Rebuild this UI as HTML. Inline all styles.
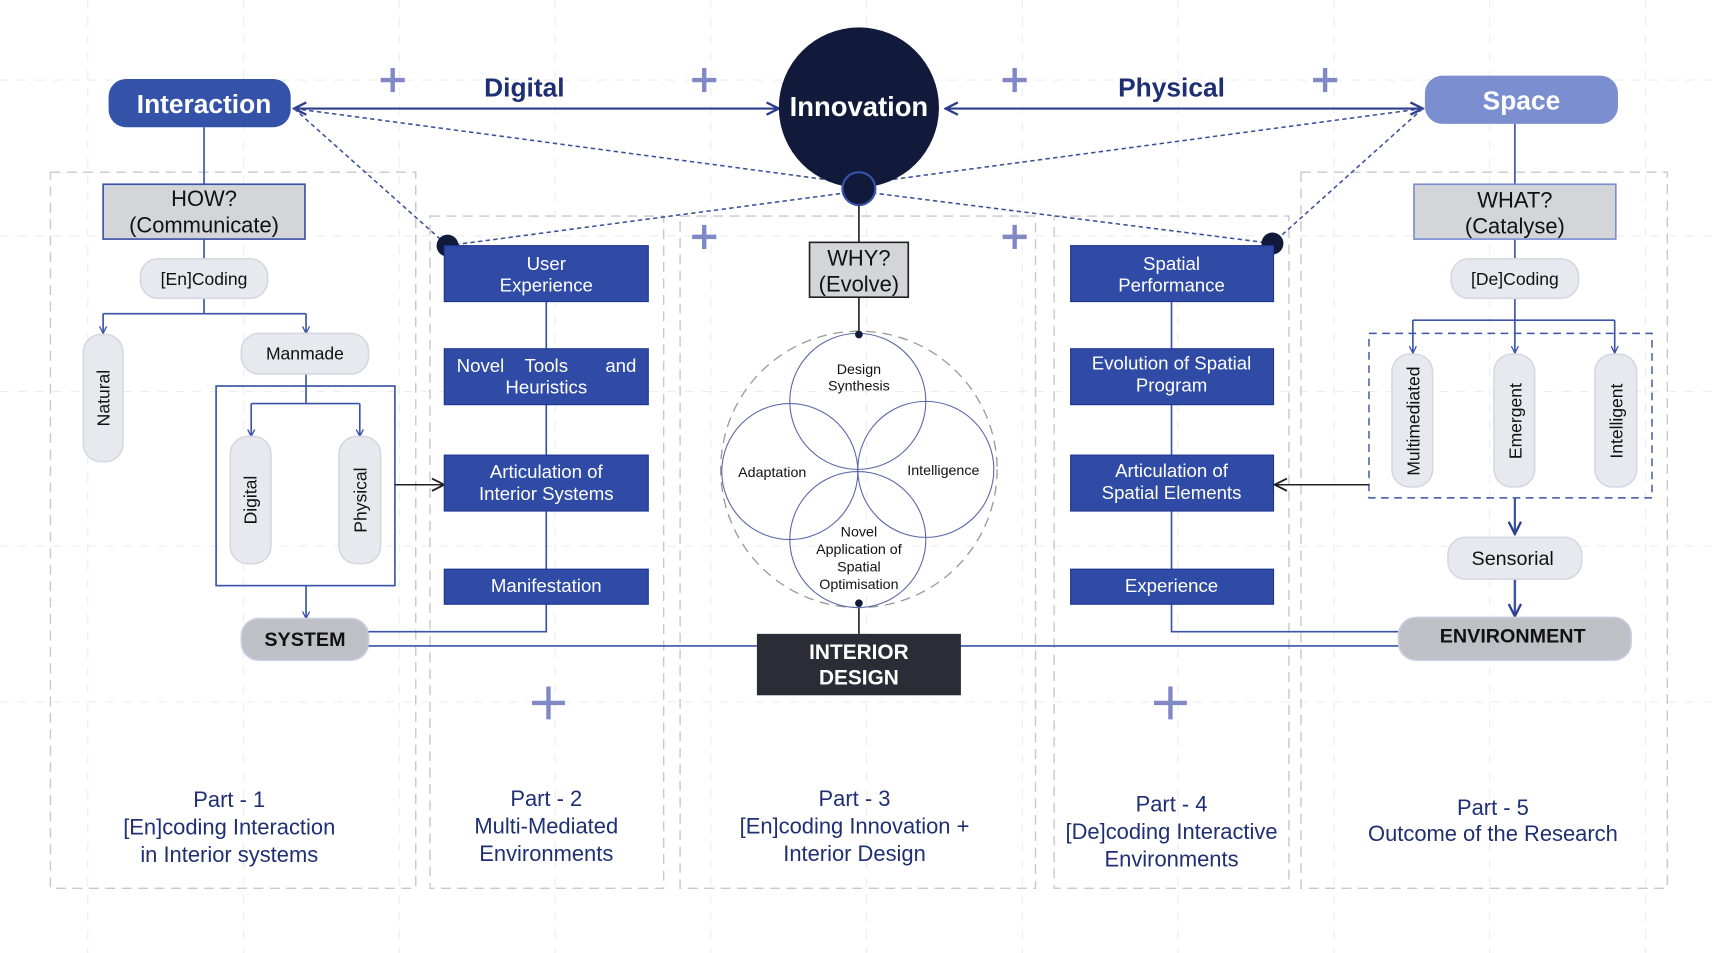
<!DOCTYPE html>
<html><head><meta charset="utf-8"><style>
html,body{margin:0;padding:0;background:#fff;}
svg{display:block;}
text{font-family:"Liberation Sans","DejaVu Sans",sans-serif;}
</style></head><body>
<svg width="1720" height="953" viewBox="0 0 1568 869" preserveAspectRatio="none" xmlns="http://www.w3.org/2000/svg">
<defs>
<marker id="oa" viewBox="0 0 10 10" refX="9" refY="5" markerWidth="14" markerHeight="14" markerUnits="userSpaceOnUse" orient="auto-start-reverse"><path d="M1,1 L9,5 L1,9" fill="none" stroke="#2c3e8c" stroke-width="1.5"/></marker>
<marker id="sa" viewBox="0 0 10 10" refX="9" refY="5" markerWidth="8" markerHeight="8" markerUnits="userSpaceOnUse" orient="auto"><path d="M1,1 L9,5 L1,9" fill="none" stroke="#3a52a8" stroke-width="1.5"/></marker>
<marker id="ka" viewBox="0 0 10 10" refX="9" refY="5" markerWidth="14" markerHeight="14" markerUnits="userSpaceOnUse" orient="auto"><path d="M1,1 L9,5 L1,9" fill="none" stroke="#222" stroke-width="1.2"/></marker>
</defs>
<rect width="1568" height="869" fill="#fff"/>
<!-- faint grid -->
<g stroke="#ececf2" stroke-width="1" stroke-dasharray="8 8">
<line x1="0" y1="73" x2="1568" y2="73"/><line x1="0" y1="215" x2="1568" y2="215"/><line x1="0" y1="357" x2="1568" y2="357"/><line x1="0" y1="498" x2="1568" y2="498"/><line x1="0" y1="640" x2="1568" y2="640"/>
<line x1="80" y1="0" x2="80" y2="869"/><line x1="222" y1="0" x2="222" y2="869"/><line x1="364" y1="0" x2="364" y2="869"/><line x1="506" y1="0" x2="506" y2="869"/><line x1="648" y1="0" x2="648" y2="869"/><line x1="790" y1="0" x2="790" y2="869"/><line x1="932" y1="0" x2="932" y2="869"/><line x1="1074" y1="0" x2="1074" y2="869"/><line x1="1216" y1="0" x2="1216" y2="869"/><line x1="1358" y1="0" x2="1358" y2="869"/><line x1="1500" y1="0" x2="1500" y2="869"/>
</g>
<!-- column boxes -->
<g fill="none" stroke="#c8c8ce" stroke-width="1.3" stroke-dasharray="9 6">
<rect x="46" y="157" width="333" height="653"/>
<rect x="392" y="197" width="213" height="613"/>
<rect x="620" y="197" width="324" height="613"/>
<rect x="961" y="197" width="214" height="613"/>
<rect x="1186" y="157" width="334" height="653"/>
</g>
<!-- plus signs -->
<g stroke="#8088c6" stroke-width="4">
<path d="M347 73h22M358 62v22"/><path d="M631 73h22M642 62v22"/><path d="M914 73h22M925 62v22"/><path d="M1197 73h22M1208 62v22"/>
<path d="M631 216h22M642 205v22"/><path d="M914 216h22M925 205v22"/><path d="M485 641h30M500 626v30"/><path d="M1052 641h30M1067 626v30"/>
</g>
<!-- main arrows -->
<line x1="268" y1="99" x2="710" y2="99" stroke="#2c3e8c" stroke-width="2" marker-start="url(#oa)" marker-end="url(#oa)"/>
<line x1="862" y1="99" x2="1297" y2="99" stroke="#2c3e8c" stroke-width="2" marker-start="url(#oa)" marker-end="url(#oa)"/>
<text x="478" y="88" font-size="24" font-weight="bold" fill="#1f2f73" text-anchor="middle">Digital</text>
<text x="1068" y="88" font-size="24" font-weight="bold" fill="#1f2f73" text-anchor="middle">Physical</text>
<!-- dotted lines -->
<g stroke="#3a4f9a" stroke-width="1.4" stroke-dasharray="4 3" fill="none">
<line x1="268" y1="99" x2="770" y2="166"/><line x1="268" y1="99" x2="408" y2="224"/><line x1="408" y1="224" x2="770" y2="176"/>
<line x1="1297" y1="99" x2="796" y2="166"/><line x1="1297" y1="99" x2="1160" y2="222"/><line x1="1160" y1="222" x2="796" y2="176"/>
</g>
<!-- Innovation -->
<circle cx="783" cy="98" r="73" fill="#111a3a"/>
<text x="783" y="106" font-size="25" font-weight="bold" fill="#fff" text-anchor="middle">Innovation</text>
<circle cx="783" cy="172" r="15" fill="#111a3a" stroke="#3a52a8" stroke-width="2"/>
<circle cx="408" cy="224" r="10" fill="#111a3a"/>
<circle cx="1160" cy="222" r="10" fill="#111a3a"/>
<!-- Interaction & Space -->
<rect x="99" y="72" width="166" height="44" rx="16" fill="#3352a8"/>
<text x="186" y="103" font-size="24" font-weight="bold" fill="#fff" text-anchor="middle">Interaction</text>
<rect x="1299" y="69" width="176" height="44" rx="16" fill="#7b8fd0"/>
<text x="1387" y="100" font-size="24" font-weight="bold" fill="#fff" text-anchor="middle">Space</text>
<!-- Part 1 -->
<g stroke="#3a52a8" stroke-width="1.5" fill="none">
<line x1="186" y1="116" x2="186" y2="168"/><line x1="186" y1="218" x2="186" y2="237"/><line x1="186" y1="272" x2="186" y2="286"/>
<line x1="94" y1="286" x2="279" y2="286"/>
<line x1="94" y1="286" x2="94" y2="304" marker-end="url(#sa)"/><line x1="279" y1="286" x2="279" y2="304" marker-end="url(#sa)"/>
<rect x="197" y="352" width="163" height="182"/>
<line x1="279" y1="341" x2="279" y2="368"/><line x1="229" y1="368" x2="328" y2="368"/>
<line x1="229" y1="368" x2="229" y2="398" marker-end="url(#sa)"/><line x1="328" y1="368" x2="328" y2="398" marker-end="url(#sa)"/>
<line x1="279" y1="534" x2="279" y2="564" marker-end="url(#sa)"/>
</g>
<line x1="360" y1="442" x2="405" y2="442" stroke="#222" stroke-width="1.3" marker-end="url(#ka)"/>
<rect x="94" y="168" width="184" height="50" fill="#d3d5d8" stroke="#3a52a8" stroke-width="1.5"/>
<text x="186" y="188" font-size="20" fill="#111" text-anchor="middle">HOW?</text>
<text x="186" y="212" font-size="20" fill="#111" text-anchor="middle">(Communicate)</text>
<g fill="#e8e9ee" stroke="#d5d8e2" stroke-width="1.5">
<rect x="128" y="236" width="116" height="36" rx="16"/>
<rect x="76" y="305" width="36" height="116" rx="16"/>
<rect x="220" y="304" width="116" height="37" rx="16"/>
<rect x="210" y="398" width="37" height="116" rx="16"/>
<rect x="309" y="398" width="38" height="116" rx="16"/>
</g>
<g font-size="16" fill="#111" text-anchor="middle">
<text x="186" y="260">[En]Coding</text>
<text x="278" y="328">Manmade</text>
<text transform="translate(100,363) rotate(-90)">Natural</text>
<text transform="translate(234,456) rotate(-90)">Digital</text>
<text transform="translate(334,456) rotate(-90)">Physical</text>
</g>
<rect x="220" y="564" width="116" height="38" rx="16" fill="#bfc0c6" stroke="#c8cde0" stroke-width="1.5"/>
<text x="278" y="589" font-size="18" font-weight="bold" fill="#111" text-anchor="middle">SYSTEM</text>
<!-- long horizontal lines -->
<g stroke="#3a52a8" stroke-width="1.5" fill="none">
<line x1="336" y1="589" x2="690" y2="589"/><line x1="876" y1="589" x2="1276" y2="589"/>
<polyline points="498,275 498,576 336,576"/>
<polyline points="1068,275 1068,576 1276,576"/>
<line x1="1381" y1="113" x2="1381" y2="168"/><line x1="1381" y1="218" x2="1381" y2="236"/><line x1="1381" y1="272" x2="1381" y2="292"/>
<line x1="1288" y1="292" x2="1472" y2="292"/>
<line x1="1288" y1="292" x2="1288" y2="322" marker-end="url(#sa)"/><line x1="1381" y1="292" x2="1381" y2="322" marker-end="url(#sa)"/><line x1="1472" y1="292" x2="1472" y2="322" marker-end="url(#sa)"/>
<line x1="1381" y1="454" x2="1381" y2="487" stroke-width="2" marker-end="url(#oa)"/>
<line x1="1381" y1="528" x2="1381" y2="562" stroke-width="2.2" marker-end="url(#oa)"/>
</g>
<!-- Part 2 boxes -->
<g fill="#2f4ba5" stroke="#1e3490" stroke-width="1">
<rect x="405" y="224" width="186" height="51"/><rect x="405" y="318" width="186" height="51"/><rect x="405" y="415" width="186" height="51"/><rect x="405" y="519" width="186" height="32"/>
<rect x="976" y="224" width="185" height="51"/><rect x="976" y="318" width="185" height="51"/><rect x="976" y="415" width="185" height="51"/><rect x="976" y="519" width="185" height="32"/>
</g>
<g font-size="17" fill="#fff" text-anchor="middle">
<text x="498" y="246">User</text><text x="498" y="266">Experience</text>
<text x="438" y="339">Novel</text><text x="498" y="339">Tools</text><text x="566" y="339">and</text><text x="498" y="359">Heuristics</text>
<text x="498" y="436">Articulation of</text><text x="498" y="456">Interior  Systems</text>
<text x="498" y="540">Manifestation</text>
<text x="1068" y="246">Spatial</text><text x="1068" y="266">Performance</text>
<text x="1068" y="337">Evolution of Spatial</text><text x="1068" y="357">Program</text>
<text x="1068" y="435">Articulation of</text><text x="1068" y="455">Spatial Elements</text>
<text x="1068" y="540">Experience</text>
</g>
<!-- center -->
<g stroke="#222" stroke-width="1.5"><line x1="783" y1="187" x2="783" y2="221"/><line x1="783" y1="271" x2="783" y2="305"/><line x1="783" y1="550" x2="783" y2="578"/></g>
<rect x="738" y="221" width="90" height="50" fill="#d3d5d8" stroke="#222" stroke-width="1.5"/>
<text x="783" y="242" font-size="20" fill="#111" text-anchor="middle">WHY?</text>
<text x="783" y="266" font-size="20" fill="#111" text-anchor="middle">(Evolve)</text>
<circle cx="783" cy="428" r="126" fill="none" stroke="#999" stroke-width="1.2" stroke-dasharray="9 6"/>
<g fill="none" stroke="#5a67a8" stroke-width="1">
<circle cx="782" cy="366" r="62"/><circle cx="720" cy="430" r="62"/><circle cx="844" cy="428" r="62"/><circle cx="782" cy="492" r="62"/>
</g>
<circle cx="783" cy="305" r="3.5" fill="#111a3a"/><circle cx="783" cy="550" r="3.5" fill="#111a3a"/>
<g font-size="13" fill="#111" text-anchor="middle">
<text x="783" y="341">Design</text><text x="783" y="356">Synthesis</text>
<text x="704" y="435">Adaptation</text><text x="860" y="433">Intelligence</text>
<text x="783" y="489">Novel</text><text x="783" y="505">Application of</text><text x="783" y="521">Spatial</text><text x="783" y="537">Optimisation</text>
</g>
<rect x="690" y="578" width="186" height="56" fill="#2b2d36"/>
<text x="783" y="601" font-size="19" font-weight="bold" fill="#fff" text-anchor="middle">INTERIOR</text>
<text x="783" y="624" font-size="19" font-weight="bold" fill="#fff" text-anchor="middle">DESIGN</text>
<!-- Part 5 -->
<rect x="1289" y="168" width="184" height="50" fill="#d3d5d8" stroke="#7b8fd0" stroke-width="1.5"/>
<text x="1381" y="189" font-size="20" fill="#111" text-anchor="middle">WHAT?</text>
<text x="1381" y="213" font-size="20" fill="#111" text-anchor="middle">(Catalyse)</text>
<rect x="1248" y="304" width="258" height="150" fill="none" stroke="#3a52a8" stroke-width="1.3" stroke-dasharray="7 5"/>
<line x1="1248" y1="442" x2="1162" y2="442" stroke="#222" stroke-width="1.3" marker-end="url(#ka)"/>
<g fill="#e8e9ee" stroke="#d5d8e2" stroke-width="1.5">
<rect x="1323" y="236" width="116" height="36" rx="16"/>
<rect x="1269" y="323" width="37" height="121" rx="16"/>
<rect x="1362" y="323" width="37" height="121" rx="16"/>
<rect x="1454" y="323" width="38" height="121" rx="16"/>
<rect x="1320" y="490" width="122" height="38" rx="16"/>
</g>
<g font-size="16" fill="#111" text-anchor="middle">
<text x="1381" y="260">[De]Coding</text>
<text transform="translate(1294,384) rotate(-90)">Multimediated</text>
<text transform="translate(1387,384) rotate(-90)">Emergent</text>
<text transform="translate(1479,384) rotate(-90)">Intelligent</text>
<text x="1379" y="515" font-size="18">Sensorial</text>
</g>
<rect x="1275" y="563" width="212" height="39" rx="16" fill="#bfc0c6" stroke="#c8cde0" stroke-width="1.5"/>
<text x="1379" y="586" font-size="18" font-weight="bold" fill="#111" text-anchor="middle">ENVIRONMENT</text>
<!-- bottom labels -->
<g font-size="20" fill="#1f2f73" text-anchor="middle">
<text x="209" y="736">Part - 1</text><text x="209" y="761">[En]coding Interaction</text><text x="209" y="786">in Interior systems</text>
<text x="498" y="735">Part - 2</text><text x="498" y="760">Multi-Mediated</text><text x="498" y="785">Environments</text>
<text x="779" y="735">Part - 3</text><text x="779" y="760">[En]coding Innovation +</text><text x="779" y="785">Interior Design</text>
<text x="1068" y="740">Part - 4</text><text x="1068" y="765">[De]coding Interactive</text><text x="1068" y="790">Environments</text>
<text x="1361" y="743">Part - 5</text><text x="1361" y="767">Outcome of the Research</text>
</g>
</svg>
</body></html>
